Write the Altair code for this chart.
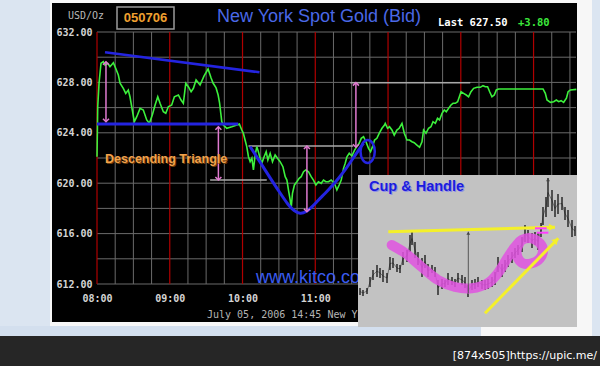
import json
import altair as alt
import pandas as pd

# ---------------- main series: minutes after 08:00 (New York) and bid price ----------------
minutes = [0, 0.6, 1.7, 3.3, 5.2, 6.6, 8.8, 10.7, 13.5, 15.4,
           17.6, 19.0, 21.7, 23.7, 25.8, 27.2, 28.6, 30.8, 32.8, 35.5,
           38.2, 41.0, 43.2, 45.6, 47.9, 50.1, 52.0, 54.7, 56.7, 58.8,
           61.6, 63.8, 67.1, 69.3, 71.2, 73.2, 75.3, 77.6, 79.5, 81.7,
           85.0, 88.3, 91.6, 94.1, 95.7, 98.2, 99.9, 101.1, 102.9, 104.2,
           107.0, 111.2, 115.3, 117.4, 119.4, 120.7, 122.1, 123.5, 124.9, 126.3,
           127.7, 129.0, 130.4, 131.8, 133.1, 134.5, 135.9, 137.8, 139.5, 140.9,
           142.8, 144.7, 146.9, 148.8, 151.0, 153.3, 155.2, 156.6, 157.9, 159.3,
           160.1, 161.2, 162.8, 164.8, 166.7, 168.4, 170.3, 172.2, 174.4, 176.6,
           178.5, 180.5, 182.6, 184.9, 186.8, 188.7, 190.9, 193.1, 195.8, 197.8,
           199.7, 201.4, 203.3, 204.7, 206.1, 208.0, 210.2, 212.4, 214.3, 216.2,
           217.9, 219.8, 221.8, 223.9, 225.6, 227.2, 228.9, 230.8, 232.7, 235.0,
           237.1, 237.7, 239.6, 241.2, 243.2, 245.1, 247.3, 249.2, 251.5, 253.4,
           255.6, 257.7, 259.7, 261.6, 263.8, 266.0, 268.0, 269.3, 271.3, 273.4,
           275.4, 277.1, 279.0, 280.8, 282.5, 284.5, 286.4, 288.0, 289.9, 291.9,
           293.6, 295.5, 297.4, 298.8, 300.2, 302.3, 304.5, 306.4, 308.4, 310.6,
           313.4, 316.1, 318.3, 320.2, 322.1, 323.8, 325.7, 327.6, 329.3, 331.2,
           367.8, 369.7, 371.1, 373.9, 376.6, 378.8, 380.7, 382.7, 384.8, 387.1,
           388.5, 390.4, 395.3]
prices = [622.10, 626.07, 627.95, 629.52, 629.64, 629.38, 629.52, 629.25, 629.56, 629.12,
          628.59, 627.93, 627.53, 627.13, 627.40, 626.86, 626.07, 624.88, 625.28, 625.94,
          625.81, 625.02, 624.75, 625.41, 626.21, 626.86, 626.34, 625.67, 625.55, 626.07,
          626.21, 626.86, 627.00, 626.60, 626.34, 627.93, 627.66, 627.26, 627.53, 628.19,
          627.79, 628.51, 629.06, 628.35, 627.95, 627.56, 627.00, 626.36, 624.88, 624.62,
          624.36, 624.48, 624.62, 624.70, 624.22, 623.96, 623.43, 622.90, 622.10, 621.71,
          621.98, 621.05, 622.24, 622.90, 622.50, 621.98, 621.58, 622.10, 622.50, 621.84,
          622.37, 621.71, 622.24, 621.98, 621.71, 621.31, 620.52, 620.25, 619.46, 618.67,
          618.01, 619.20, 619.86, 620.12, 620.39, 620.52, 620.91, 621.05, 620.91, 620.52,
          620.25, 619.86, 620.12, 619.99, 620.25, 620.12, 620.12, 620.25, 619.99, 619.46,
          619.86, 620.25, 621.18, 621.58, 622.10, 622.37, 622.16, 622.63, 622.90, 623.17,
          623.56, 623.69, 623.29, 622.77, 622.50, 622.90, 623.43, 623.56, 623.96, 624.36,
          624.62, 624.75, 624.36, 624.48, 624.22, 623.82, 624.22, 624.36, 624.75, 623.96,
          623.43, 623.43, 623.29, 623.21, 623.03, 622.85, 623.29, 624.22, 623.96, 624.36,
          624.48, 624.88, 624.75, 625.15, 625.02, 625.55, 625.81, 625.67, 625.94, 626.21,
          626.34, 626.34, 626.47, 626.86, 627.26, 627.13, 627.00, 626.86, 627.26, 627.53,
          627.61, 627.61, 627.74, 627.66, 627.66, 627.26, 626.86, 627.00, 627.40, 627.48,
          627.48, 627.13, 626.60, 626.42, 626.47, 626.60, 626.47, 626.55, 626.42, 626.74,
          627.26, 627.40, 627.45]

# grid and ticks
hour_lines = [0, 60, 120, 180, 240, 300, 360]
quarter_lines = [15, 30, 45, 75, 90, 105, 135, 150, 165, 195, 210, 225,
                 255, 270, 285, 315, 330, 345, 375, 390]
price_grid = [612, 614, 616, 618, 620, 622, 624, 626, 628, 630, 632]
y_tick_values = [612, 616, 620, 624, 628, 632]
x_tick_values = [0, 60, 120, 180]
x_tick_labels = ["08:00", "09:00", "10:00", "11:00"]

# ---------------- hand-drawn annotations (chart units) ----------------
resist_t = [6.6, 134.0]
resist_p = [630.39, 628.80]
support_t = [0, 116.4]
support_p = [624.70, 624.70]
cup_t = [126.3, 134.5, 142.8, 151.0, 157.6, 162.6, 167.5, 172.5, 177.4, 182.6,
         188.2, 193.7, 199.2, 204.7, 210.2, 215.7, 219.8]
cup_p = [622.90, 621.68, 620.41, 619.22, 618.27, 617.79, 617.56, 617.71, 618.11, 618.67,
         619.20, 619.78, 620.39, 621.05, 621.84, 622.63, 623.17]
handle_t = [223.2]
handle_p = [622.52]
level_t0 = [93.3, 124.9, 208.8]
level_t1 = [140.0, 211.3, 307.8]
level_p = [620.25, 622.95, 627.98]
arrow_t = [7.4, 100.1, 173.1, 213.5]
arrow_top = [629.64, 624.48, 622.95, 627.98]
arrow_bot = [624.88, 620.25, 617.74, 622.85]

# ---------------- inset "Cup & Handle" picture (its own units) ----------------
inset_u = [0, 219]
inset_v = [0, 152]
bar_u = [2, 5, 9, 12, 15, 19, 22, 25, 29, 32, 35, 39, 42, 45, 49, 52, 54, 57, 60, 64,
         67, 70, 74, 77, 80, 84, 87, 90, 94, 97, 100, 104, 107, 110, 114, 117, 120, 124, 127, 130,
         134, 137, 140, 144, 147, 150, 154, 157, 160, 164, 167, 170, 174, 177, 180, 183, 185, 188, 190, 194,
         197, 200, 204, 207, 210, 214, 217]
bar_low = [32, 31, 33, 40, 47, 50, 49, 45, 44, 57, 59, 55, 54, 62, 65, 75, 82, 69, 62, 50,
           59, 50, 54, 50, 32, 38, 40, 42, 42, 40, 44, 42, 39, 30, 37, 38, 40, 38, 37, 38,
           40, 42, 55, 50, 55, 60, 64, 69, 72, 75, 85, 84, 79, 82, 77, 90, 102, 110, 120, 116,
           110, 113, 117, 107, 100, 90, 91]
bar_high = [39, 37, 39, 50, 57, 62, 59, 57, 54, 70, 69, 63, 62, 75, 77, 92, 95, 85, 75, 69,
            72, 63, 62, 60, 47, 48, 47, 54, 50, 48, 54, 52, 50, 42, 47, 48, 50, 47, 47, 48,
            50, 55, 70, 63, 67, 72, 75, 79, 82, 90, 102, 97, 94, 95, 94, 104, 120, 130, 149, 137,
            127, 133, 130, 120, 117, 107, 101]
swoosh_u = [33.7, 47, 63.7, 80, 97, 113.7, 130, 140, 150, 157, 163.7, 173.7, 182, 185, 182,
            173.7, 165, 160, 158.7, 162]
swoosh_v = [82, 74, 60, 47, 40, 38.7, 44, 54, 70, 80, 87, 88.7, 83.7, 77, 68.7,
            63.7, 63.7, 68.7, 77, 85]
rim_u = [30.3, 197]
rim_v = [95.3, 99.7]
trend_u = [127, 200.3]
trend_v = [13.7, 88.7]
depth_u = [110.3]
depth_v0 = [34]
depth_v1 = [95.3]
eq_u0 = [177, 178.7]
eq_u1 = [188.7, 190.3]
eq_v = [98.7, 94.3]

BLUE = "#2424e0"
PINK = "#e07ad0"
SANS = "Liberation Sans, Arial, sans-serif"
MONO = "DejaVu Sans Mono"

dummy = pd.DataFrame({"k": [0]})


def deco_rect(x0, x1, y0, y1, **kw):
    return alt.Chart(dummy).mark_rect(**kw).encode(
        x=alt.value(x0), x2=alt.value(x1), y=alt.value(y0), y2=alt.value(y1))


def deco_text(txt, x, y, **kw):
    return alt.Chart(dummy).mark_text(text=txt, **kw).encode(x=alt.value(x), y=alt.value(y))


xs = alt.Scale(domain=[0, 395], nice=False, zero=False)
ys = alt.Scale(domain=[612, 632], nice=False, zero=False)

x_axis = alt.Axis(values=x_tick_values,
                  labelExpr=json.dumps(x_tick_labels) + "[round(datum.value/60)]",
                  domain=False, ticks=False, grid=False, title=None,
                  labelColor="#d4d4d4", labelFont=MONO, labelFontSize=10,
                  labelFontWeight="bold", labelPadding=9, labelFlush=False, zindex=1)
y_axis = alt.Axis(values=y_tick_values, format=".2f",
                  domain=False, ticks=False, grid=False, title=None,
                  labelColor="#d4d4d4", labelFont=MONO, labelFontSize=10,
                  labelFontWeight="bold", labelPadding=5, zindex=1)


def X(f):
    return alt.X(f, type="quantitative", scale=xs, axis=x_axis)


def Y(f):
    return alt.Y(f, type="quantitative", scale=ys, axis=y_axis)


price_df = pd.DataFrame({"t": minutes, "p": prices})

frame = [
    deco_rect(-47, 495, -32, 304, color="#f7f7f7"),
    deco_rect(-97, 384, 294, 304, color="#d3dfee"),
    deco_rect(-45, 480, -29, 290, color="#000000"),
    deco_rect(-97, 503, 304, 334, color="#262626"),
]

grid = [
    alt.Chart(pd.DataFrame({"t": quarter_lines})).mark_rule(color="#6a6a6a", strokeWidth=1).encode(x=X("t")),
    alt.Chart(pd.DataFrame({"p": price_grid})).mark_rule(color="#6a6a6a", strokeWidth=1).encode(y=Y("p")),
    alt.Chart(pd.DataFrame({"t": hour_lines})).mark_rule(color="#b00000", strokeWidth=1.2).encode(x=X("t")),
]

header = [
    deco_text("USD/Oz", -29, -16, font=MONO, fontSize=10, color="#b8b8b8", align="left", baseline="middle"),
    deco_rect(20, 77, -25, -3, fill="#000000", stroke="#9a9a9a", strokeWidth=1.5),
    deco_text("050706", 48.5, -14, font=SANS, fontSize=13,
              fontWeight="bold", color="#f0a030", align="center", baseline="middle"),
    deco_text("New York Spot Gold (Bid)", 120, -15, font=SANS, fontSize=18,
              color="#4a68e6", align="left", baseline="middle"),
    deco_text("Last 627.50", 341, -9, font=MONO, fontSize=10.5, fontWeight="bold",
              color="#ffffff", align="left", baseline="middle"),
    deco_text("+3.80", 421, -9, font=MONO, fontSize=10.5, fontWeight="bold",
              color="#3ce83c", align="left", baseline="middle"),
]

levels = alt.Chart(pd.DataFrame({"t0": level_t0, "t1": level_t1, "p": level_p})).mark_rule(
    color="#a8a8a8", strokeWidth=1.5).encode(x=X("t0"), x2=alt.X2("t1"), y=Y("p"))

gold = alt.Chart(price_df).mark_line(color="#3cf03c", strokeWidth=1.6).encode(
    x=X("t"), y=Y("p"))

resist = alt.Chart(pd.DataFrame({"t": resist_t, "p": resist_p})).mark_line(
    color=BLUE, strokeWidth=2.5).encode(x=X("t"), y=Y("p"))
support = alt.Chart(pd.DataFrame({"t": support_t, "p": support_p})).mark_line(
    color=BLUE, strokeWidth=3).encode(x=X("t"), y=Y("p"))
cup = alt.Chart(pd.DataFrame({"t": cup_t, "p": cup_p, "i": list(range(len(cup_t)))})).mark_line(
    color=BLUE, strokeWidth=3, interpolate="basis").encode(x=X("t"), y=Y("p"), order="i:Q")
handle = alt.Chart(pd.DataFrame({"t": handle_t, "p": handle_p})).mark_point(
    shape="M -0.62 0 A 0.62 1 0 1 0 0.62 0 A 0.62 1 0 1 0 -0.62 0",
    size=530, filled=False, stroke=BLUE, strokeWidth=2.5, opacity=1).encode(x=X("t"), y=Y("p"))

arrows_df = pd.DataFrame({"t": arrow_t, "top": arrow_top, "bot": arrow_bot})
arrow_shaft = alt.Chart(arrows_df).mark_rule(color=PINK, strokeWidth=1.5).encode(
    x=X("t"), y=Y("top"), y2=alt.Y2("bot"))
arrow_up = alt.Chart(arrows_df).mark_point(
    shape="M -1 1 L 0 0 L 1 1", size=36, filled=False, stroke=PINK, strokeWidth=1.5,
    opacity=1).encode(x=X("t"), y=Y("top"))
arrow_dn = alt.Chart(arrows_df).mark_point(
    shape="M -1 -1 L 0 0 L 1 -1", size=36, filled=False, stroke=PINK, strokeWidth=1.5,
    opacity=1).encode(x=X("t"), y=Y("bot"))

label_df = pd.DataFrame({"t": [6.6], "p": [621.92], "txt": ["Descending Triangle"]})
tri_shadow = alt.Chart(label_df).mark_text(
    font=SANS, fontSize=12.5, fontWeight="bold",
    color="#6a3a08", align="left", baseline="middle", dx=1, dy=1).encode(x=X("t"), y=Y("p"), text="txt:N")
tri_text = alt.Chart(label_df).mark_text(
    font=SANS, fontSize=12.5, fontWeight="bold",
    color="#f2a24c", align="left", baseline="middle").encode(x=X("t"), y=Y("p"), text="txt:N")

footer = [
    deco_text("July 05, 2006 14:45 New York Time", 110, 283, font=MONO, fontSize=10,
              color="#b4b4b4", align="left", baseline="middle"),
    deco_text("www.kitco.com", 159, 251, font=SANS, fontSize=18, color="#3a5cf0",
              align="left", baseline="alphabetic"),
    deco_text("[874x505]https://upic.me/", 500, 324, font="DejaVu Sans", fontSize=11,
              color="#ffffff", align="right", baseline="middle"),
]

main = alt.layer(*frame, *grid, *header, levels, gold, resist, support, cup, handle,
                 arrow_shaft, arrow_up, arrow_dn, tri_shadow, tri_text, *footer)

# ---------------- inset ----------------
us = alt.Scale(domain=[0, 219], range=[261, 480], nice=False, zero=False)
vs = alt.Scale(domain=[0, 152], range=[295, 143], nice=False, zero=False)


def U(f):
    return alt.X(f, type="quantitative", scale=us, axis=None)


def V(f):
    return alt.Y(f, type="quantitative", scale=vs, axis=None)


inset_bg = alt.Chart(pd.DataFrame({"u0": [inset_u[0]], "u1": [inset_u[1]],
                                   "v0": [inset_v[0]], "v1": [inset_v[1]]})).mark_rect(
    color="#c2c2c2").encode(x=U("u0"), x2=alt.X2("u1"), y=V("v0"), y2=alt.Y2("v1"))

bars_df = pd.DataFrame({"u": bar_u, "lo": bar_low, "hi": bar_high})
bars_df["mid"] = (bars_df["lo"] + bars_df["hi"]) / 2
bars = alt.Chart(bars_df).mark_rule(color="#111111", strokeWidth=1.3).encode(
    x=U("u"), y=V("lo"), y2=alt.Y2("hi"))
bars_line = alt.Chart(bars_df).mark_line(color="#222222", strokeWidth=0.8, opacity=0.6).encode(
    x=U("u"), y=V("mid"))

swoosh = alt.Chart(pd.DataFrame({"u": swoosh_u, "v": swoosh_v, "i": list(range(len(swoosh_u)))})).mark_line(
    color="#e052e0", strokeWidth=10, opacity=0.85, strokeCap="round", strokeJoin="round",
    interpolate="catmull-rom").encode(x=U("u"), y=V("v"), order="i:Q")

rim = alt.Chart(pd.DataFrame({"u": rim_u, "v": rim_v})).mark_line(
    color="#f4f02a", strokeWidth=3).encode(x=U("u"), y=V("v"))
rim_head = alt.Chart(pd.DataFrame({"u": rim_u[1:], "v": rim_v[1:]})).mark_point(
    shape="M 0 0 L -1 -0.6 L -1 0.6 Z", size=150, filled=True, color="#f4f02a",
    opacity=1).encode(x=U("u"), y=V("v"))
trend = alt.Chart(pd.DataFrame({"u": trend_u, "v": trend_v})).mark_line(
    color="#f4f02a", strokeWidth=3).encode(x=U("u"), y=V("v"))
trend_head = alt.Chart(pd.DataFrame({"u": trend_u[1:], "v": trend_v[1:]})).mark_point(
    shape="M 0 0 L -1 -0.6 L -1 0.6 Z", size=150, filled=True, color="#f4f02a", angle=315,
    opacity=1).encode(x=U("u"), y=V("v"))

depth_df = pd.DataFrame({"u": depth_u, "v0": depth_v0, "v1": depth_v1})
depth = alt.Chart(depth_df).mark_rule(color="#555555", strokeWidth=1).encode(
    x=U("u"), y=V("v0"), y2=alt.Y2("v1"))
depth_head = alt.Chart(depth_df).mark_point(
    shape="M 0 0 L -0.6 1 L 0.6 1 Z", size=40, filled=True, color="#444444",
    opacity=1).encode(x=U("u"), y=V("v1"))
peak_head = alt.Chart(pd.DataFrame({"u": [190], "v": [149]})).mark_point(
    shape="M 0 0 L -0.6 1 L 0.6 1 Z", size=40, filled=True, color="#444444",
    opacity=1).encode(x=U("u"), y=V("v"))

eq = alt.Chart(pd.DataFrame({"u0": eq_u0, "u1": eq_u1, "v": eq_v})).mark_rule(
    color="#ff3cff", strokeWidth=2).encode(x=U("u0"), x2=alt.X2("u1"), y=V("v"))

cup_label_df = pd.DataFrame({"u": [11], "v": [140.3], "txt": ["Cup & Handle"]})
cup_shadow = alt.Chart(cup_label_df).mark_text(
    font=SANS, fontSize=14.5, fontWeight="bold",
    color="#9090e8", align="left", baseline="middle", dx=1, dy=1).encode(x=U("u"), y=V("v"), text="txt:N")
cup_label = alt.Chart(cup_label_df).mark_text(
    font=SANS, fontSize=14.5, fontWeight="bold",
    color="#1c1cdc", align="left", baseline="middle").encode(x=U("u"), y=V("v"), text="txt:N")

inset = alt.layer(inset_bg, bars_line, bars, swoosh, rim, rim_head, trend, trend_head,
                  depth, depth_head, peak_head, eq, cup_shadow, cup_label)

chart = alt.layer(main, inset).resolve_scale(x="independent", y="independent").properties(
    width=479, height=252,
    autosize=alt.AutoSizeParams(type="none"),
    padding={"left": 97, "top": 32, "right": 24, "bottom": 82},
    background="#dbe5f1",
).configure_view(stroke=None, fill=None)

chart.save("out.html", embed_options={"renderer": "svg", "actions": False})
